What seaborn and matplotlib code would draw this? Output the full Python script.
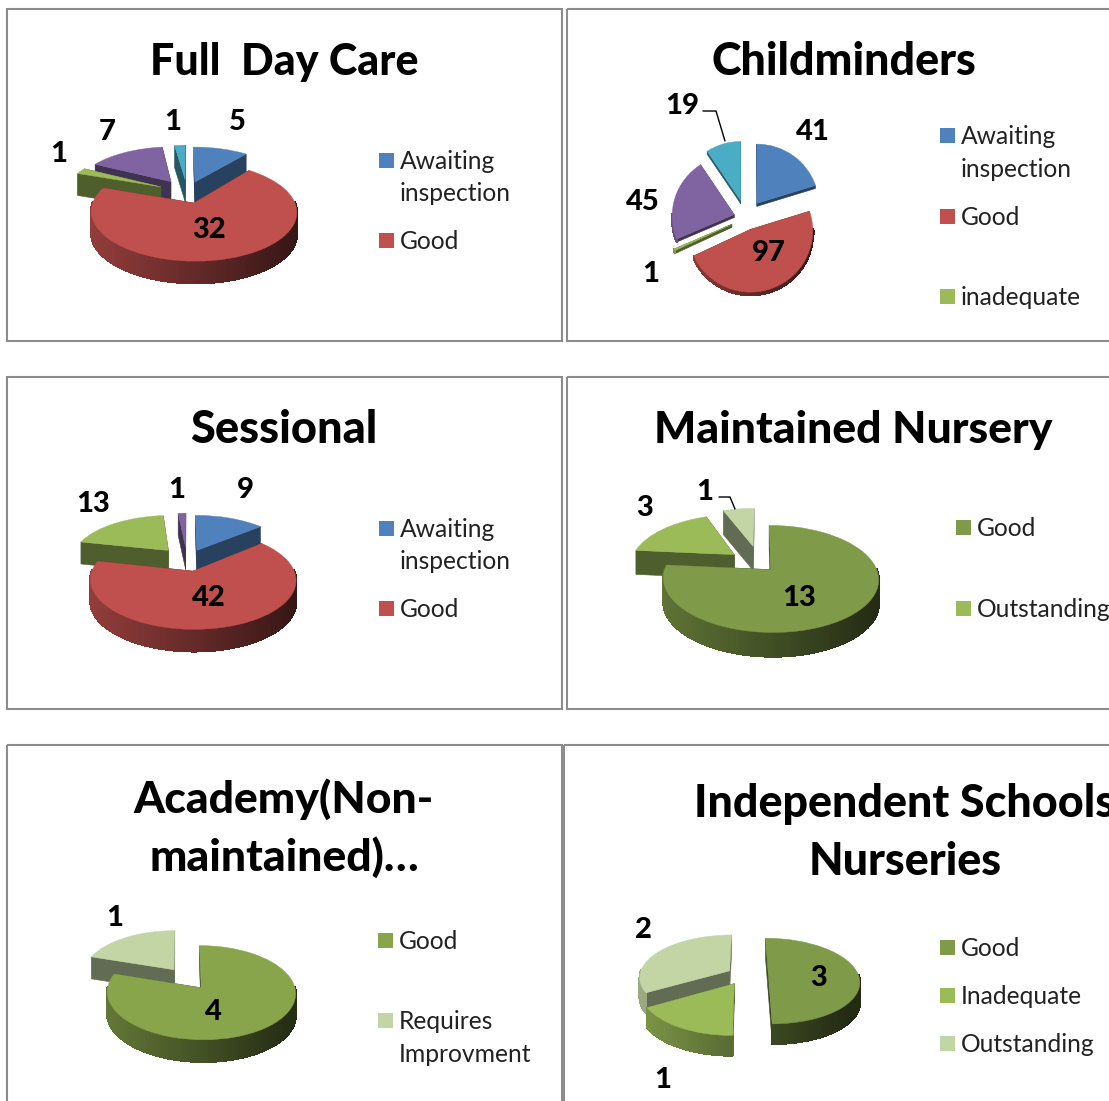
import numpy as np
import matplotlib
matplotlib.use("Agg")
import matplotlib.pyplot as plt
from matplotlib.patches import Polygon, Rectangle
from matplotlib.transforms import Transform
import seaborn as sns

# ---- data ----
full_day_labels = ["Awaiting inspection", "Good", "inadequate", "Requires", "Outstanding"]
full_day_values = [5, 32, 1, 7, 1]
childminder_labels = ["Awaiting inspection", "Good", "inadequate", "Requires", "Outstanding"]
childminder_values = [41, 97, 1, 45, 19]
sessional_labels = ["Awaiting inspection", "Good", "Outstanding", "Requires"]
sessional_values = [9, 42, 13, 1]
maintained_labels = ["Good", "Outstanding", "Requires"]
maintained_values = [13, 3, 1]
academy_labels = ["Good", "Requires Improvment"]
academy_values = [4, 1]
independent_labels = ["Good", "Inadequate", "Outstanding"]
independent_values = [3, 1, 2]

sns.set_theme(style="white")
plt.rcParams["font.family"] = ["Lato", "DejaVu Sans"]

office = sns.color_palette(["#4F81BD", "#C0504D", "#9BBB59", "#8064A2", "#4BACC6"])
greens = sns.color_palette(["#7F9A48", "#9BBB59", "#C3D5A5"])
greens2 = sns.color_palette(["#88A54B", "#C3D5A5"])

W, H = 1109, 1101
fig = plt.figure(figsize=(W / 100, H / 100), dpi=100)
ax = fig.add_axes([0, 0, 1, 1])


class Proj(Transform):
    """Unit pie coordinates to pixel coordinates with a tilted perspective."""
    input_dims = 2
    output_dims = 2
    has_inverse = False

    def __init__(self, cx, cy, rx, ry, k):
        super().__init__()
        self.p = (cx, cy, rx, ry, k)

    def transform_non_affine(self, values):
        v = np.asarray(values, float)
        cx, cy, rx, ry, k = self.p
        d = 1 + k * v[:, 1]
        return np.column_stack([cx + rx * v[:, 0] / d, cy - ry * v[:, 1] / d])


def pie3d(values, colors, explode, cx, cy, rx, ry, k, depth):
    proj = Proj(cx, cy, rx, ry, k)
    wedges, _ = ax.pie(values, colors=colors, explode=explode, startangle=90,
                       counterclock=False, radius=1, center=(0, 0))
    mids = [np.radians((w.theta1 + w.theta2) / 2) for w in wedges]
    order = np.argsort([-(np.sin(m)) for m in mids])
    z = 2
    left, right = cx - rx * 1.15, cx + rx * 1.15
    for i in order:
        w = wedges[i]
        col = np.array(w.get_facecolor()[:3])
        c0 = np.array(w.center)
        t = np.radians(np.arange(w.theta1, w.theta2, 1.0).tolist() + [w.theta2])
        rim = c0 + np.column_stack([np.cos(t), np.sin(t)])
        rim_px = proj.transform_non_affine(rim)
        tip_px = proj.transform_non_affine(c0[None, :])[0]
        down = np.array([0, depth])
        faces = sorted([rim_px[0], rim_px[-1]], key=lambda p: p[1])
        for p in faces:
            shade = 0.5
            ax.add_patch(Polygon([tip_px, p, p + down, tip_px + down], closed=True,
                                 fc=col * shade, ec=col * shade, lw=0.4, zorder=z))
            z += 1
        for a, b, ta, tb in zip(rim_px[:-1], rim_px[1:], t[:-1], t[1:]):
            if np.sin((ta + tb) / 2) > 0.02:
                continue
            f = np.clip((a[0] - left) / (right - left), 0, 1)
            shade = 0.80 - 0.52 * f
            ax.add_patch(Polygon([a, b, b + down, a + down], closed=True,
                                 fc=col * shade, ec=col * shade, lw=1.0,
                                 antialiased=False, zorder=z))
            z += 1
        w.set_transform(proj + ax.transData)
        w.set_edgecolor(col)
        w.set_linewidth(0.3)
        w.set_zorder(z)
        z += 1


pie3d(full_day_values, office, [0.25, 0.25, 0.30, 0.30, 0.30], 187, 192, 97, 44, 0.17, 22)
pie3d(childminder_values, office, [0.30, 0.20, 0.25, 0.20, 0.30], 746, 218, 62, 61, 0.02, 3)
pie3d(sessional_values, office, [0.25, 0.25, 0.30, 0.30], 187, 560, 97, 44, 0.17, 22)
pie3d(maintained_values, greens, [0.15, 0.32, 0.38], 760, 564, 104, 50, 0.17, 24)
pie3d(academy_values, greens2, [0.35, 0.15], 182, 975, 91, 44, 0.10, 22)
pie3d(independent_values, greens, [0.26, 0.23, 0.2], 745, 975, 90, 42, 0.14, 20)

ax.set_aspect("auto")
ax.set_xlim(0, W)
ax.set_ylim(H, 0)
ax.set_axis_off()

# panels
frame = "#8C8C8C"
for (x0, y0, x1, y1) in [(7, 9, 562, 341), (567, 9, 1130, 341),
                         (7, 377, 562, 709), (567, 377, 1130, 709),
                         (7, 745, 562, 1130), (564, 745, 1130, 1130)]:
    ax.add_patch(Rectangle((x0, y0), x1 - x0, y1 - y0, fill=False, ec=frame, lw=1.5, zorder=1))

for txt, x, y, s in [("Full  Day Care", 284, 62, 31), ("Childminders", 844, 62, 32.3),
                     ("Sessional", 284, 430, 32.5), ("Maintained Nursery", 853, 430, 32),
                     ("Academy(Non-", 284, 799, 32), ("maintained)…", 284, 857, 32),
                     ("Independent Schools", 905, 804, 32.3), ("Nurseries", 905, 862, 32.3)]:
    ax.text(x, y, txt, fontsize=s, fontweight="black", color="black",
            ha="center", va="center", zorder=500)

for txt, x, y in [("5", 237, 122), ("32", 209, 230), ("1", 59, 154), ("7", 107, 132), ("1", 173, 122),
                  ("41", 813, 132), ("97", 769, 253), ("1", 651, 274), ("45", 643, 202), ("19", 682, 106),
                  ("9", 245, 490), ("42", 209, 598), ("13", 93, 504), ("1", 177, 490),
                  ("13", 799, 598), ("3", 645, 508), ("1", 705, 492),
                  ("4", 213, 1012), ("1", 115, 918),
                  ("3", 819, 978), ("1", 663, 1080), ("2", 643, 930)]:
    ax.text(x, y, txt, fontsize=21, fontweight="black", color="black",
            ha="center", va="center", zorder=500)

ax.plot([703, 716, 725], [111, 111, 141], color="black", lw=1, zorder=499)
ax.plot([719, 730, 735], [497, 497, 509], color="black", lw=1, zorder=499)

LEG = 17.7
legend_items = [
    (379, 400, office[0], [("Awaiting", 160), ("inspection", 192)]),
    (379, 400, office[1], [("Good", 240)]),
    (940, 961, office[0], [("Awaiting", 135), ("inspection", 168)]),
    (940, 961, office[1], [("Good", 216)]),
    (940, 961, office[2], [("inadequate", 296)]),
    (379, 400, office[0], [("Awaiting", 528), ("inspection", 560)]),
    (379, 400, office[1], [("Good", 608)]),
    (956, 977, greens[0], [("Good", 527)]),
    (956, 977, greens[1], [("Outstanding", 608)]),
    (378, 399, greens2[0], [("Good", 940)]),
    (378, 399, greens2[1], [("Requires", 1020), ("Improvment", 1053)]),
    (940, 961, greens[0], [("Good", 947)]),
    (940, 961, greens[1], [("Inadequate", 995)]),
    (940, 961, greens[2], [("Outstanding", 1043)]),
]
for sx, tx, c, lines in legend_items:
    y0 = lines[0][1]
    ax.add_patch(Rectangle((sx, y0 - 7.5), 15, 15, fc=c, ec="none", zorder=500))
    for txt, y in lines:
        ax.text(tx, y + 1.5, txt, fontsize=LEG, color="#222222", ha="left", va="center", zorder=500)

fig.savefig("out.png", dpi=100, facecolor="white")
